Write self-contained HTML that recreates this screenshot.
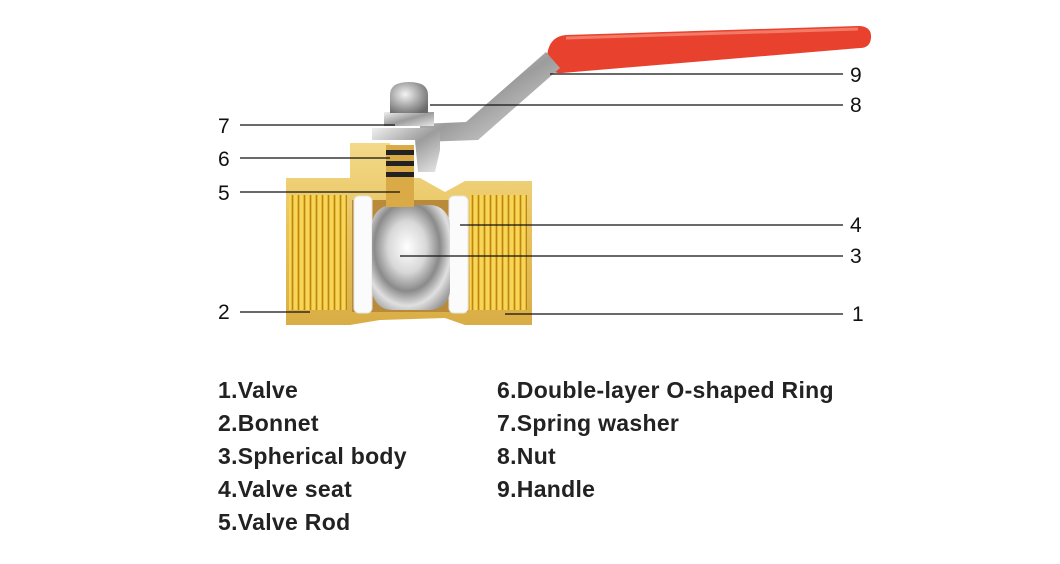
<!DOCTYPE html>
<html><head><meta charset="utf-8"><style>
html,body{margin:0;padding:0;background:#fff;width:1060px;height:564px;overflow:hidden}
svg{position:absolute;left:0;top:0}
.t{position:absolute;font-family:"Liberation Sans",sans-serif;font-size:23px;font-weight:bold;color:#222;line-height:1;white-space:nowrap;letter-spacing:0.3px}
</style></head><body>
<svg width="1060" height="564" viewBox="0 0 1060 564">
<defs>
<linearGradient id="brass" x1="0" y1="0" x2="0" y2="1">
<stop offset="0" stop-color="#f3d98a"/><stop offset="0.5" stop-color="#e8c25a"/><stop offset="1" stop-color="#d9ad45"/></linearGradient>
<pattern id="thr" width="6" height="10" patternUnits="userSpaceOnUse">
<rect width="6" height="10" fill="#e8b830"/><rect width="3" height="10" fill="#f6d65a"/><rect x="4" width="1" height="10" fill="#b8861a"/></pattern>
<radialGradient id="ball" cx="0.45" cy="0.4" r="0.7">
<stop offset="0" stop-color="#ffffff"/><stop offset="0.35" stop-color="#d8d8d8"/><stop offset="0.6" stop-color="#8a8a8a"/><stop offset="0.8" stop-color="#e0e0e0"/><stop offset="1" stop-color="#9a9a9a"/></radialGradient>
<linearGradient id="chrome" x1="0" y1="0" x2="1" y2="1">
<stop offset="0" stop-color="#f0f0f0"/><stop offset="0.5" stop-color="#9c9c9c"/><stop offset="1" stop-color="#e6e6e6"/></linearGradient>
<radialGradient id="dome" cx="0.4" cy="0.4" r="0.7">
<stop offset="0" stop-color="#f4f4f4"/><stop offset="0.6" stop-color="#a0a0a0"/><stop offset="1" stop-color="#6a6a6a"/></radialGradient>
</defs>
<path d="M548,50 Q552,36 566,35 L858,26 Q872,26 871,38 Q870,48 860,48 L562,73 Q548,74 546,62 Z" fill="#e8412e"/>
<path d="M566,38 L858,29" stroke="#f27a66" stroke-width="3" fill="none"/>
<path d="M546,52 L560,68 L478,140 L420,142 L420,124 L466,122 Z" fill="url(#chrome)"/>
<path d="M286,178 L350,178 L350,143 L390,143 L390,178 L420,178 L445,192 L465,181 L532,181 L532,325 L465,325 L445,318 L380,320 L350,325 L286,325 Z" fill="url(#brass)"/>
<rect x="289" y="195" width="58" height="115" fill="url(#thr)"/>
<rect x="470" y="195" width="57" height="115" fill="url(#thr)"/>
<rect x="352" y="200" width="116" height="112" fill="#b88a3a"/>
<rect x="354" y="196" width="18" height="117" rx="5" fill="#fbfbfb" stroke="#e6e6e6"/>
<rect x="449" y="196" width="19" height="117" rx="5" fill="#fbfbfb" stroke="#e6e6e6"/>
<rect x="372" y="205" width="78" height="105" rx="20" fill="url(#ball)"/>
<rect x="386" y="145" width="28" height="62" fill="#d9aa45"/>
<rect x="386" y="150" width="28" height="5" fill="#222"/>
<rect x="386" y="161" width="28" height="5" fill="#222"/>
<rect x="386" y="172" width="28" height="5" fill="#222"/>
<path d="M372,128 L440,128 L440,150 L435,172 L418,172 L415,140 L372,140 Z" fill="url(#chrome)"/>
<rect x="384" y="112" width="50" height="14" fill="url(#chrome)"/>
<path d="M390,113 L390,95 Q390,82 409,82 Q428,82 428,95 L428,113 Z" fill="url(#dome)"/>
<g stroke="#111" stroke-width="1.2">
<line x1="550" y1="74" x2="843" y2="74"/>
<line x1="430" y1="105" x2="843" y2="105"/>
<line x1="240" y1="125" x2="395" y2="125"/>
<line x1="240" y1="158" x2="390" y2="158"/>
<line x1="240" y1="192" x2="400" y2="192"/>
<line x1="460" y1="225" x2="843" y2="225"/>
<line x1="400" y1="256" x2="843" y2="256"/>
<line x1="240" y1="312" x2="310" y2="312"/>
<line x1="505" y1="314" x2="843" y2="314"/>
</g>
<g font-family="Liberation Sans, sans-serif" font-size="21" fill="#111">
<text x="850" y="82">9</text>
<text x="850" y="112">8</text>
<text x="850" y="232">4</text>
<text x="850" y="263">3</text>
<text x="852" y="321">1</text>
<text x="218" y="133">7</text>
<text x="218" y="166">6</text>
<text x="218" y="200">5</text>
<text x="218" y="319">2</text>
</g>
</svg>
<div class="t" style="left:218px;top:379px">1.Valve</div>
<div class="t" style="left:218px;top:412px">2.Bonnet</div>
<div class="t" style="left:218px;top:445px">3.Spherical body</div>
<div class="t" style="left:218px;top:478px">4.Valve seat</div>
<div class="t" style="left:218px;top:511px">5.Valve Rod</div>
<div class="t" style="left:497px;top:379px">6.Double-layer O-shaped Ring</div>
<div class="t" style="left:497px;top:412px">7.Spring washer</div>
<div class="t" style="left:497px;top:445px">8.Nut</div>
<div class="t" style="left:497px;top:478px">9.Handle</div>
</body></html>
